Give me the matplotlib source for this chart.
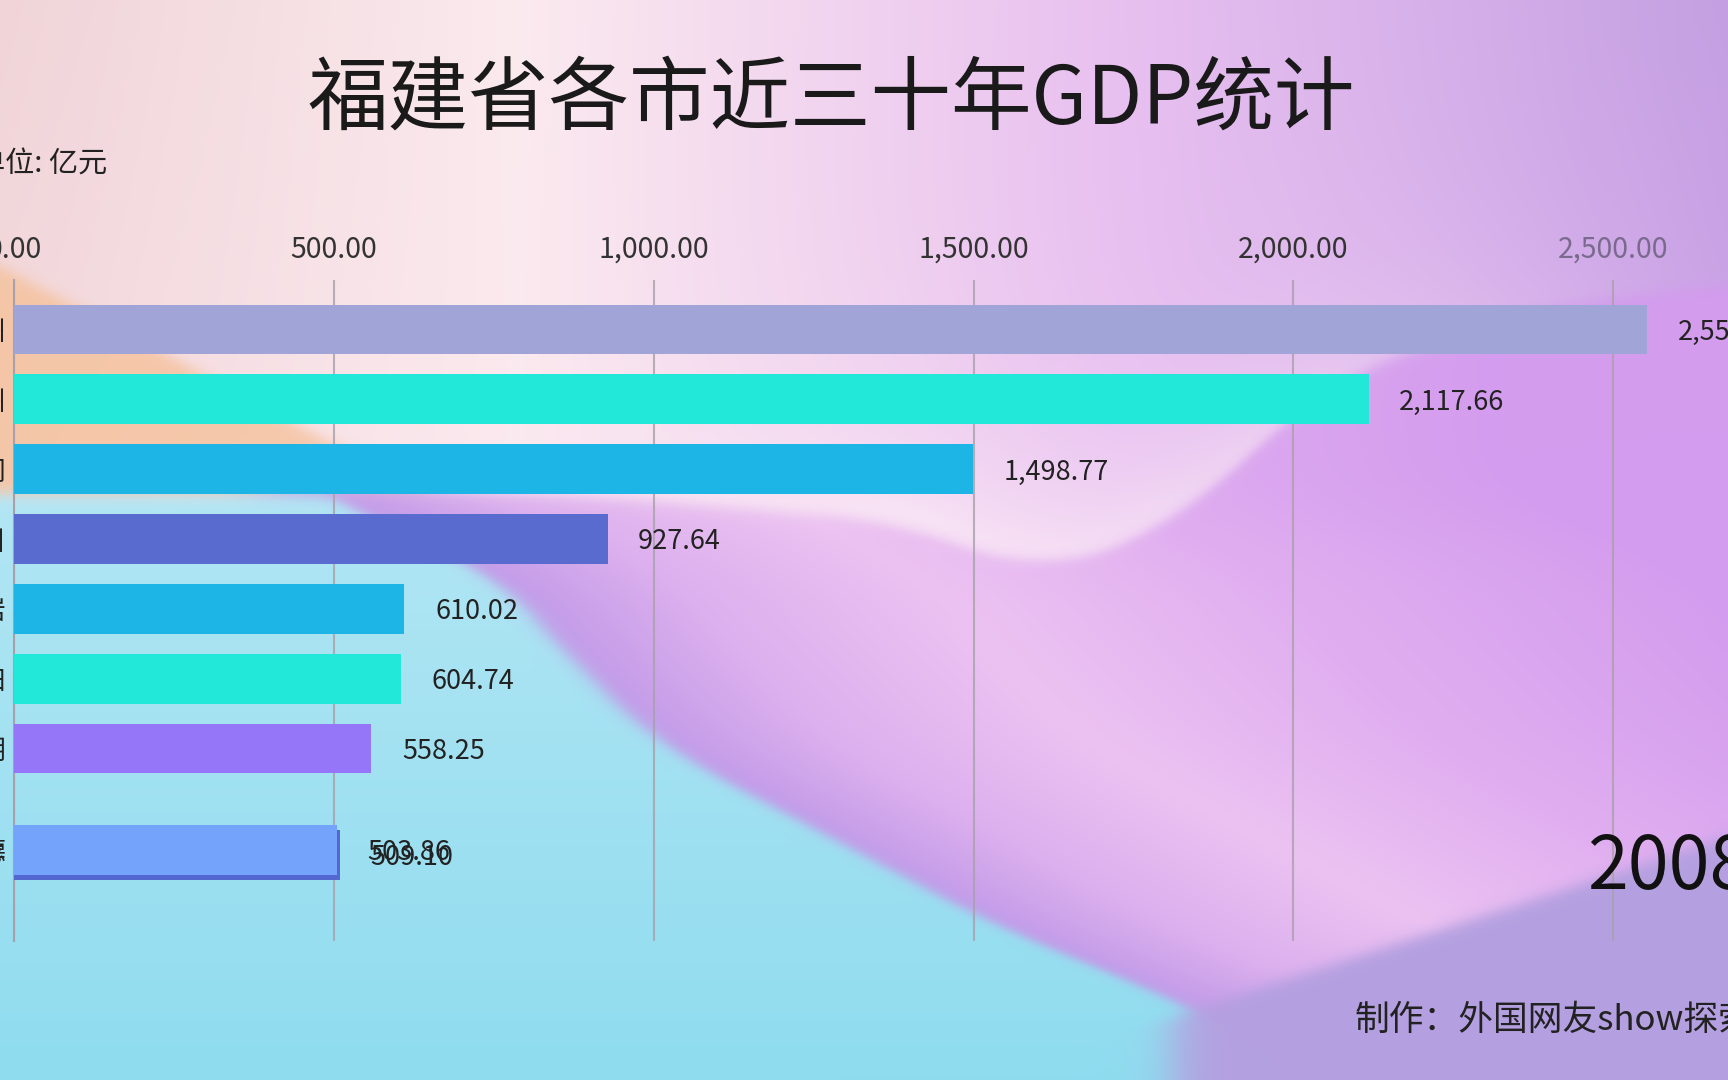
import matplotlib
matplotlib.use('Agg')
import matplotlib.pyplot as plt
import matplotlib.colors as mcolors
import numpy as np

plt.rcParams['font.family'] = ['Noto Sans CJK SC', 'DejaVu Sans']

# 数据（2008 年那一帧）
cities = ['泉州', '福州', '厦门', '漳州', '龙岩', '莆田', '三明', '南平', '宁德']
gdp = [2553.10, 2117.66, 1498.77, 927.64, 610.02, 604.74, 558.25, 509.10, 503.86]
rank = [0, 1, 2, 3, 4, 5, 6, 7.52, 7.45]
bar_colors = ['#a0a4d6', '#22e8da', '#1db4e6', '#5a6bd0', '#1db4e6',
              '#22e8da', '#9676f8', '#5367d0', '#74a3fc']
xticks = [0, 500, 1000, 1500, 2000, 2500]
year = '2008'

W, H = 1728, 1080
fig = plt.figure(figsize=(W / 100, H / 100), dpi=100)


# 背景渐变
def rgb(h):
    return np.array(mcolors.to_rgb(h))


def sig(d, w):
    return 1 / (1 + np.exp(-d / w))


def mix(img, col, m):
    return img * (1 - m[..., None]) + rgb(col) * m[..., None]


def grad(v, stops, cols):
    cs = [rgb(c) for c in cols]
    return np.stack([np.interp(v, stops, [c[i] for c in cs]) for i in range(3)], -1)


def curve(grid, xs, ys, k):
    # 折线再做滑动平均，让曲线圆滑一些
    raw = np.interp(grid, xs, ys)
    pad = np.concatenate([np.full(k, raw[0]), raw, np.full(k, raw[-1])])
    return np.convolve(pad, np.ones(2 * k + 1) / (2 * k + 1), mode='same')[k:-k]


nx, ny = 576, 360
gx, gy = np.linspace(0, 1, nx), np.linspace(0, 1, ny)
X, Y = np.meshgrid(gx, gy)
top = grad(X, [0, 0.3, 0.65, 1], ['#f0d4d8', '#fbeaee', '#e8c0f0', '#c4a0e2'])
low = grad(X, [0, 0.3, 0.65, 1], ['#f8e0e4', '#fbe8ee', '#e6bcf2', '#d4a2ee'])
img = top * (1 - Y[..., None]) + low * Y[..., None]

# 左上角的橙色
ptop = 0.256 + 0.855 * (X - 0.0115)
m_peach = sig(Y - ptop, 0.004) * sig(0.462 - Y, 0.004)
img = mix(img, '#f5c5a5', m_peach * 0.95)

# 紫色波浪
bowl = curve(gx, [0.2, 0.35, 0.52, 0.6, 0.675, 0.77, 0.88, 1.0],
             [0.45, 0.46, 0.485, 0.533, 0.494, 0.355, 0.29, 0.262], 25)[None, :]
glow = np.exp(-np.clip(bowl - Y, 0, None) / 0.09) * sig(bowl - Y, 0.004)
glow = glow * np.exp(-((X - 0.55) / 0.25) ** 2)
img = mix(img, '#fbeaf6', glow * 0.9)

edge = curve(gy, [0.44, 0.46, 0.53, 0.56, 0.69, 0.87, 0.934, 1.0],
             [0.17, 0.18, 0.29, 0.30, 0.38, 0.59, 0.695, 0.75], 15)[:, None]
d = X - edge
inner = grad(d, [0, 0.1, 0.25, 0.45, 0.7], ['#c29ae8', '#dcb0ee', '#ecc2f2', '#e0aef0', '#d49cee'])
m_bowl = sig(Y - bowl, 0.004) * sig(X - 0.15, 0.01)
img = img * (1 - m_bowl[..., None]) + inner * m_bowl[..., None]

# 左下角的浅蓝
m_blue = sig(Y - 0.458, 0.004) * sig(edge - X, 0.004)
blue = grad(Y, [0.46, 1], ['#b2e6f4', '#8fdcef'])
img = img * (1 - m_blue[..., None]) + blue * m_blue[..., None]

# 右下角
line = 0.934 - (X - 0.695) / 0.305 * 0.158
m_lil = sig(Y - line, 0.004) * sig(X - 0.68, 0.008)
img = mix(img, '#b4a0e0', m_lil)

bg = fig.add_axes([0, 0, 1, 1], zorder=-1)
bg.imshow(np.clip(img, 0, 1), aspect='auto', extent=[0, 1, 0, 1], interpolation='bilinear')
bg.axis('off')

# 主图
px = 0.6396  # 每亿元的像素
x0 = 14.3
xmax = (W - x0) / px
ax = fig.add_axes([x0 / W, 1 - 941 / H, 1 - x0 / W, (941 - 280) / H])
ax.set_facecolor('none')
ax.barh(rank, gdp, height=0.71, color=bar_colors, zorder=3)
ax.set_xlim(0, xmax)
ax.set_ylim(8.753, -0.707)

ax.xaxis.tick_top()
ax.set_xticks(xticks)
ax.set_xticklabels(['{:,.2f}'.format(v) for v in xticks], fontsize=20.5, color='#333333')
ax.get_xticklabels()[-1].set_color('#7a6a8e')
ax.tick_params(axis='x', length=0, pad=11)
ax.set_yticks(rank)
ax.set_yticklabels(cities, fontsize=19, color='#222222')
ax.tick_params(axis='y', length=0, pad=6)
ax.grid(axis='x', color='#a8a0aa', linewidth=1.5, alpha=0.8, zorder=0)
for s in ['top', 'right', 'bottom']:
    ax.spines[s].set_visible(False)
ax.spines['left'].set_color('#a8a0aa')
ax.spines['left'].set_linewidth(1.5)

for r, v in zip(rank, gdp):
    ax.annotate('{:,.2f}'.format(v), (v, r), xytext=(22, -2), textcoords='offset points',
                va='center', ha='left', fontsize=19.5, color='#222222', annotation_clip=False)

fig.text(831 / W, 1 - 100 / H, '福建省各市近三十年GDP统计', fontsize=58, ha='center',
         va='center', color='#1a1a1a')
fig.text(107 / W, 1 - 165 / H, '单位: 亿元', fontsize=21, ha='right', va='center',
         color='#222222')
fig.text(1587 / W, 1 - 868 / H, year, fontsize=53, ha='left', va='center', color='#111111')
fig.text(1355 / W, 1 - 1020 / H, '制作：外国网友show探索', fontsize=25, ha='left',
         va='center', color='#222222')

fig.savefig('out.png', dpi=100)
